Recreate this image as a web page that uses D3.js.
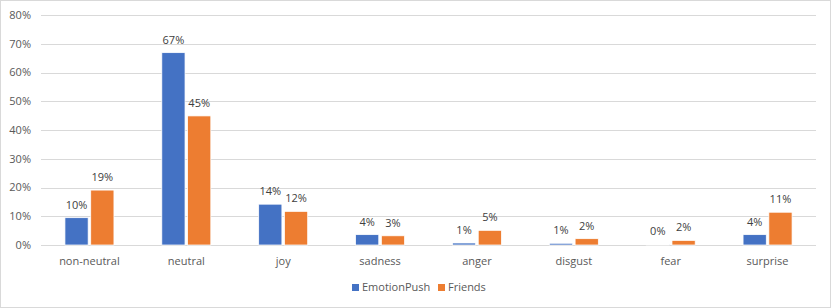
<!DOCTYPE html>
<html>
<head>
<meta charset="utf-8">
<script src="https://cdn.jsdelivr.net/npm/d3@7"></script>
<style>
  body { margin: 0; background: #fff; }
  svg { display: block; font-family: "Open Sans", "Liberation Sans", sans-serif; }
</style>
</head>
<body>
<svg id="chart" width="831" height="308"></svg>
<script>
// data
var categories = ["non-neutral", "neutral", "joy", "sadness", "anger", "disgust", "fear", "surprise"];
var seriesNames = ["EmotionPush", "Friends"];
var emotionPush = [0.095, 0.669, 0.142, 0.036, 0.007, 0.006, 0.002, 0.036];
var friends = [0.191, 0.449, 0.117, 0.032, 0.051, 0.022, 0.016, 0.114];
var colors = ["#4472c4", "#ed7d31"];
var yTicks = [0, 0.1, 0.2, 0.3, 0.4, 0.5, 0.6, 0.7, 0.8];

var svg = d3.select("#chart");
var width = 831, height = 308;
var margin = {top: 15, right: 15, bottom: 63, left: 41};

// outer border
svg.append("rect")
  .attr("x", 0.5).attr("y", 0.5)
  .attr("width", width - 1).attr("height", height - 1)
  .attr("fill", "#fff").attr("stroke", "#d9d9d9");

var x = d3.scaleBand()
  .domain(categories)
  .range([margin.left, width - margin.right]);

var x1 = d3.scaleBand()
  .domain(seriesNames)
  .range([0, 49])
  .paddingInner(0.1);

var y = d3.scaleLinear()
  .domain([0, 0.8])
  .range([height - margin.bottom, margin.top]);

// gridlines
svg.append("g")
  .selectAll("line")
  .data(yTicks)
  .enter()
  .append("line")
  .attr("x1", margin.left)
  .attr("x2", width - margin.right)
  .attr("y1", function(d) { return Math.round(y(d)) + 0.5; })
  .attr("y2", function(d) { return Math.round(y(d)) + 0.5; })
  .attr("stroke", "#d9d9d9")
  .attr("stroke-width", 1);

// y tick labels
svg.append("g")
  .selectAll("text")
  .data(yTicks)
  .enter()
  .append("text")
  .attr("x", margin.left - 10)
  .attr("y", function(d) { return y(d); })
  .attr("dy", "0.35em")
  .attr("text-anchor", "end")
  .attr("font-size", "11px")
  .attr("fill", "#595959")
  .text(d3.format(".0%"));

var rows = categories.map(function(c, i) {
  return {cat: c, vals: [emotionPush[i], friends[i]]};
});

var groups = svg.append("g")
  .selectAll("g")
  .data(rows)
  .enter()
  .append("g")
  .attr("transform", function(d) {
    return "translate(" + (x(d.cat) + x.bandwidth() / 2 - 24.5) + ",0)";
  });

groups.selectAll("rect")
  .data(function(d) { return d.vals.map(function(v, j) { return {name: seriesNames[j], v: v, j: j}; }); })
  .enter()
  .append("rect")
  .attr("x", function(d) { return x1(d.name); })
  .attr("width", x1.bandwidth())
  .attr("y", function(d) { return y(d.v); })
  .attr("height", function(d) { return y(0) - y(d.v); })
  .attr("fill", function(d) { return colors[d.j]; })
  .attr("stroke", "#fff")
  .attr("stroke-width", 0.75);

// data labels
groups.selectAll("text")
  .data(function(d) { return d.vals.map(function(v, j) { return {name: seriesNames[j], v: v}; }); })
  .enter()
  .append("text")
  .attr("x", function(d) { return x1(d.name) + x1.bandwidth() / 2; })
  .attr("y", function(d) { return y(d.v) - 9; })
  .attr("text-anchor", "middle")
  .attr("font-size", "11px")
  .attr("fill", "#404040")
  .text(function(d) { return d3.format(".0%")(d.v); });

// category labels
svg.append("g")
  .selectAll("text")
  .data(categories)
  .enter()
  .append("text")
  .attr("x", function(d) { return x(d) + x.bandwidth() / 2; })
  .attr("y", y(0) + 20)
  .attr("text-anchor", "middle")
  .attr("font-size", "11px")
  .attr("fill", "#595959")
  .text(function(d) { return d; });

// legend
var legend = svg.append("g").attr("transform", "translate(352,291)");
var legendX = [0, 86];
seriesNames.forEach(function(name, i) {
  var g = legend.append("g").attr("transform", "translate(" + legendX[i] + ",0)");
  g.append("rect")
    .attr("x", 0).attr("y", -7)
    .attr("width", 7).attr("height", 7)
    .attr("fill", colors[i]);
  g.append("text")
    .attr("x", 10).attr("y", 0)
    .attr("font-size", "11px")
    .attr("fill", "#595959")
    .text(name);
});
</script>
</body>
</html>
